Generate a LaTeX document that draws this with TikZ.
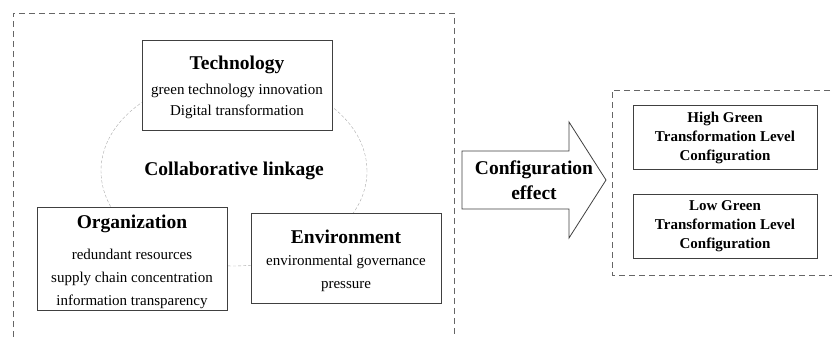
\documentclass[tikz,border=0pt]{standalone}
\usepackage{fontspec}
\setmainfont{Liberation Serif}
\usepackage{xcolor}
\usetikzlibrary{positioning,shapes.geometric}
\definecolor{boxLine}{HTML}{404040}
\definecolor{dashLine}{HTML}{666666}
\definecolor{ringLine}{HTML}{AAAAAA}
\tikzset{
  factor/.style={draw=boxLine, fill=white, line width=0.9pt, align=center, inner sep=2pt,
    font=\fontsize{15}{23}\selectfont, minimum width=190pt, minimum height=#1},
  factor/.default={90pt},
  level/.style={draw=boxLine, line width=0.9pt, align=center, inner sep=2pt,
    font=\fontsize{15}{19}\selectfont\bfseries, minimum width=184pt, minimum height=64pt},
  ring/.style={ellipse, draw=ringLine, line width=0.4pt, densely dashed, inner sep=0pt,
    minimum width=266pt, minimum height=190pt, font=\fontsize{19.5}{24}\selectfont\bfseries},
  frame/.style={draw=dashLine, line width=0.8pt, dash pattern=on 6pt off 4pt},
  effect/.style={draw=boxLine, line width=0.8pt, fill=white},
}
\newcommand{\ftitle}[1]{{\fontsize{19.5}{24}\selectfont\bfseries\rule{0pt}{19pt}#1}}

\begin{document}
\begin{tikzpicture}[x=1pt, y=-1pt, node distance=24pt]
\useasboundingbox (0,0) rectangle (832,337);
% --- configuration frames (open at the page edge)
\draw[frame] (13,337) -- (13,13) -- (454,13) -- (454,337);
\draw[frame] (840,90) -- (612,90) -- (612,275) -- (840,275);
% --- collaborative linkage ring
\node[ring] (link) at (234,171) {Collaborative linkage};
% --- TOE factors
\node[factor] (tech) at (237,85) {\ftitle{Technology}\\[2pt]green technology innovation\\[-2pt]Digital transformation};
\node[factor=102pt] (org) at (132,259) {\ftitle{Organization}\\[8pt]redundant resources\\supply chain concentration\\information transparency};
\node[factor] (env) at (346,258) {\ftitle{Environment}\\[-1pt]environmental governance\\pressure};
% --- configuration effect arrow
\draw[effect] (462,151) -- (569,151) -- (569,122) -- (606,180) -- (569,238) -- (569,209) -- (462,209) -- cycle;
\node[font=\fontsize{19.5}{25}\selectfont\bfseries, align=center] (cfg) at (534,180) {Configuration\\effect};
% --- outcome configurations
\node[level] (high) at (725,137.5) {High Green\\Transformation Level\\Configuration};
\node[level, below=of high] (low) {Low Green\\Transformation Level\\Configuration};
\end{tikzpicture}
\end{document}
